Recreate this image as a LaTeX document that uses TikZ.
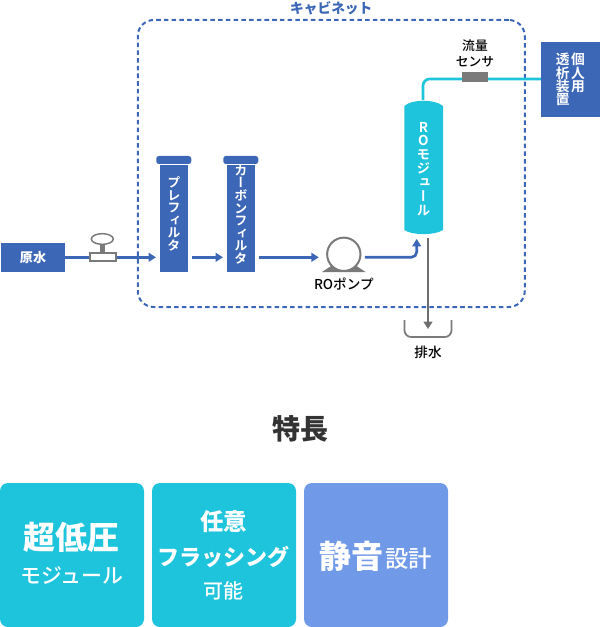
\documentclass[tikz,border=0pt]{standalone}
\usepackage{fontspec}
\setmainfont{Noto Sans CJK JP}
\newfontfamily\mediumfont{Noto Sans CJK JP Medium}
\newfontfamily\vertfont[RawFeature=+vert,BoldFont={Noto Sans CJK JP Bold}]{Noto Sans CJK JP}
\usetikzlibrary{shapes, arrows.meta, positioning, calc}
\definecolor{pipeblue}{HTML}{3C66B6}
\definecolor{rocyan}{HTML}{1EC3DC}
\definecolor{softblue}{HTML}{7099E8}
\definecolor{partgray}{HTML}{7A7A7A}

\begin{document}
\begin{tikzpicture}[x=0.75pt, y=-0.75pt,
	blueline/.style={draw=pipeblue, line width=2pt},
	flow/.style={blueline, -{Triangle[length=5.5pt,width=6.5pt]}},
	part/.style={draw=partgray, line width=1.5pt, fill=white},
	column/.style={fill=pipeblue, text=white, inner sep=0pt, minimum width=21pt, minimum height=80.25pt},
	columncap/.style={fill=pipeblue, rounded corners=2pt, minimum width=26.25pt, minimum height=6pt, inner sep=0pt},
	stacked/.style={text=white, inner sep=0pt, align=center, font=\vertfont\bfseries\fontsize{9.8}{9.4}\selectfont},
	whitelabel/.style={text=white, inner sep=0pt, align=center},
	label/.style={inner sep=0pt, align=center, font=\mediumfont\fontsize{9.6}{12}\selectfont},
	card/.style={rounded corners=6pt, minimum width=108pt, minimum height=108pt, inner sep=0pt}]
	\useasboundingbox (0,0) rectangle (600,627);

	% cabinet outline
	\node[draw=pipeblue, line width=1.5pt, dash pattern=on 3.4pt off 2.4pt, rounded corners=12pt,
		minimum width=290.25pt, minimum height=215.25pt, inner sep=0pt] (cabinet) at (331.25,163.5) {};
	\node[above=2.5pt of cabinet, inner sep=0pt, text=pipeblue, font=\bfseries\fontsize{10.3}{10.3}\selectfont] (cabinetlabel) {キャビネット};

	% water line
	\node[fill=pipeblue, text=white, minimum width=48pt, minimum height=21.75pt, inner sep=0pt,
		font=\bfseries\fontsize{9.8}{10}\selectfont] (source) at (33,257.3) {原水};
	\node[part, minimum width=19.5pt, minimum height=6.2pt, inner sep=0pt] (valve) at (102.5,257.3) {};
	\node[part, line width=1.1pt, ellipse, minimum width=16.5pt, minimum height=8pt, inner sep=0pt] (handle) at (102.3,239) {};
	\fill[partgray] (100,244) rectangle (105,253);
	\coordinate (linelevel) at (102.5,257.3);

	\node[column] (pre) at (174,218.3) {};
	\node[columncap] (precap) at (173.75,160) {};
	\node[stacked] (pretext) at (174,214) {プ\\レ\\フ\\ィ\\ル\\タ};
	\node[column] (carbon) at (241,218.3) {};
	\node[columncap] (carboncap) at (240.75,160) {};
	\node[stacked] (carbontext) at (241,214.5) {カ\\ー\\ボ\\ン\\フ\\ィ\\ル\\タ};

	\fill[partgray] (322,272) -- (343.8,257.5) -- (365.5,272) -- cycle;
	\node[part, circle, minimum size=25pt, inner sep=0pt] (pump) at (343.8,254.3) {};
	\node[label, font=\mediumfont\fontsize{10.2}{12}\selectfont, below=4pt of pump] (pumplabel) {ROポンプ};

	% RO module body with bulged ends
	\fill[rocyan] (404.3,106) .. controls (412,99) and (435,99) .. (443,106) -- (443,230)
		.. controls (435,235.5) and (412,235.5) .. (404.3,230) -- cycle;
	\node[minimum width=29.25pt, minimum height=100.5pt, inner sep=0pt] (ro) at (423.6,167.5) {};
	\node[stacked, font=\vertfont\bfseries\fontsize{10.2}{10.5}\selectfont] (rotext) at (423.4,169) {R\\[-1.1pt]O\\モ\\ジ\\ュ\\ー\\ル};
	\coordinate (roinlet) at (416.7,235);
	\coordinate (rodrain) at (428,238);

	\draw[blueline] (source) -- (valve);
	\draw[flow] (valve.east |- linelevel) -- (precap.west |- linelevel);
	\draw[flow] (precap.east |- linelevel) -- (carboncap.west |- linelevel);
	\draw[flow, shorten >=5.5pt] (carboncap.east |- linelevel) -- (pump.west |- linelevel);
	\draw[flow, rounded corners=4pt, shorten <=2.5pt, shorten >=3pt] (pump.east |- linelevel) -| (roinlet);

	% drain
	\coordinate (bucketleft) at (404.5,320);
	\coordinate (bucketright) at (451.5,320);
	\coordinate (bucketbottom) at (428,337);
	\draw[partgray, line width=1.3pt, rounded corners=5pt] (bucketleft) |- (bucketbottom) -| (bucketright);
	\node[label, font=\mediumfont\fontsize{10.2}{12}\selectfont, below=6.5pt of bucketbottom] (drainlabel) {排水};
	\draw[draw=partgray!90!black, line width=1.9pt, -{Triangle[length=5.5pt,width=6.5pt]}] (rodrain) -- (bucketbottom |- 0,329);

	% permeate line
	\node[fill=pipeblue, minimum width=44.25pt, minimum height=56.25pt, inner sep=0pt] (dialyzer) at (570.7,79.7) {};
	\coordinate (pipecorner) at (423,79);
	\draw[rocyan, line width=2pt, rounded corners=5pt] (ro.north -| pipecorner) -- (pipecorner) -- (dialyzer.west |- pipecorner);
	\node[fill=partgray, minimum width=19.5pt, minimum height=7.2pt, inner sep=0pt] (sensor) at (475,76.8) {};
	\node[label, above=3.5pt of sensor] (sensorlabel) {流量\\センサ};
	\node[stacked, font=\vertfont\bfseries\fontsize{10.3}{10}\selectfont, anchor=north] (dialyzerright) at (578,53) {個\\人\\用};
	\node[stacked, font=\vertfont\bfseries\fontsize{10.3}{10}\selectfont, anchor=north] (dialyzerleft) at (562.7,53) {透\\析\\装\\置};

	% features
	\node[inner sep=0pt, text=black!80, font=\bfseries\fontsize{21}{21}\selectfont] (features) at (300.5,429) {特長};

	\node[card, fill=rocyan] (cardone) at (72,555) {};
	\node[whitelabel, font=\bfseries\fontsize{24}{24}\selectfont] (cardonetitle) at (71,537) {超低圧};
	\node[whitelabel, font=\mediumfont\fontsize{15.7}{16}\selectfont] (cardonesub) at (72,576) {モジュール};

	\node[card, fill=rocyan] (cardtwo) at (224,555) {};
	\node[whitelabel, font=\bfseries\fontsize{17.6}{18}\selectfont] (cardtwotop) at (223.5,521.7) {任意};
	\node[whitelabel, font=\bfseries\fontsize{16.5}{17}\selectfont] (cardtwomid) at (223.5,556.5) {フラッシング};
	\node[whitelabel, font=\mediumfont\fontsize{15}{15}\selectfont] (cardtwosub) at (223.5,591) {可能};

	\node[card, fill=softblue] (cardthree) at (376,555) {};
	\node[whitelabel, font=\bfseries\fontsize{24}{24}\selectfont] (cardthreetitle) at (351,556) {静音};
	\node[whitelabel, font=\mediumfont\fontsize{17.5}{18}\selectfont] (cardthreesub) at (408.5,558.5) {設計};
\end{tikzpicture}
\end{document}
